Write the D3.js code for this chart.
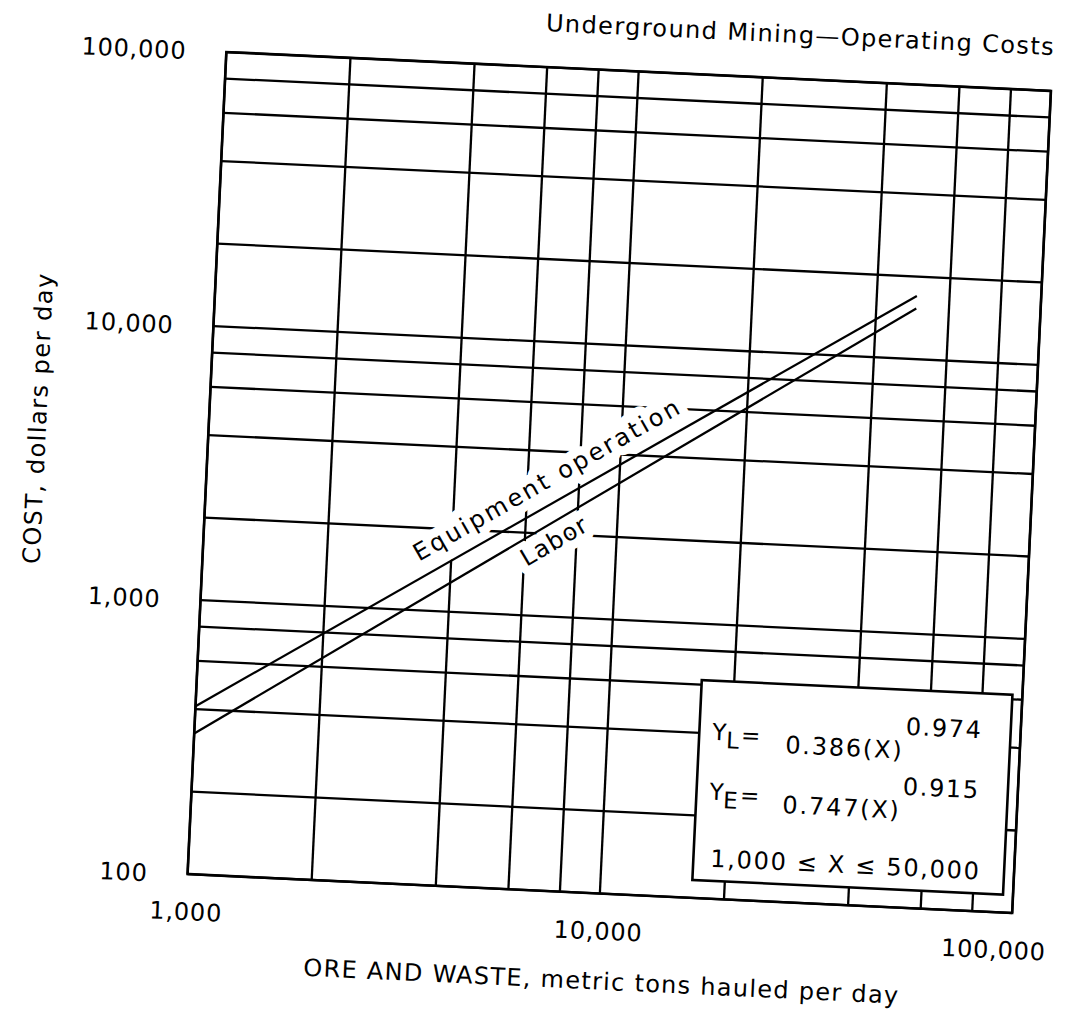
<!DOCTYPE html>
<html>
<head>
<meta charset="utf-8">
<script src="https://cdn.jsdelivr.net/npm/d3@7"></script>
<style>
  body { margin: 0; background: #fff; }
  text { font-family: "DejaVu Sans", sans-serif; fill: #000; }
</style>
</head>
<body>
<script>
const width = 1077, height = 1026;

// grid lines (log paper)
const xGrid = [1000, 2000, 4000, 6000, 8000, 10000, 20000, 40000, 60000, 80000, 100000];
const yGrid = [100, 200, 400, 600, 800, 1000, 2000, 4000, 6000, 8000, 10000, 20000, 40000, 60000, 80000, 100000];
const xLabels = [1000, 10000, 100000];
const yLabels = [100, 1000, 10000, 100000];

// cost lines: [tons per day, dollars per day]
const equipment = [[1000, 410], [50000, 17000]];
const labor = [[1000, 326], [50000, 15300]];

const seriesNames = ["Equipment operation", "Labor"];
const labelAt = [3500, 5650]; // X where each label starts

const fmt = d3.format(",");

// plot area (unrotated frame)
const pLeft = 206.5, pRight = 1032, pTop = 71, pBottom = 894;

const svg = d3.select("body")
  .append("svg")
  .attr("width", width)
  .attr("height", height);

// the scanned page is a bit tilted
const page = svg.append("g")
  .attr("transform", "rotate(2.7 619 482.5)");

const x = d3.scaleLog().domain([1000, 100000]).range([pLeft, pRight]);
const y = d3.scaleLog().domain([100, 100000]).range([pBottom, pTop]);

// grid
page.append("g").selectAll("line")
  .data(xGrid)
  .join("line")
  .attr("x1", d => x(d)).attr("x2", d => x(d))
  .attr("y1", pTop).attr("y2", pBottom)
  .attr("stroke", "#000")
  .attr("stroke-width", 2.3);

page.append("g").selectAll("line")
  .data(yGrid)
  .join("line")
  .attr("x1", pLeft).attr("x2", pRight)
  .attr("y1", d => y(d)).attr("y2", d => y(d))
  .attr("stroke", "#000")
  .attr("stroke-width", 2.3);

// frame
page.append("rect")
  .attr("x", pLeft).attr("y", pTop)
  .attr("width", pRight - pLeft).attr("height", pBottom - pTop)
  .attr("fill", "none")
  .attr("stroke", "#000")
  .attr("stroke-width", 2.6);

// tick labels
page.append("g").selectAll("text")
  .data(yLabels)
  .join("text")
  .attr("x", pLeft - 40)
  .attr("y", d => y(d) + 9)
  .attr("text-anchor", "end")
  .style("font-size", "24px")
  .style("letter-spacing", "0.8px")
  .text(d => fmt(d));

page.append("g").selectAll("text")
  .data(xLabels)
  .join("text")
  .attr("x", d => Math.min(x(d), pRight - 17))
  .attr("y", pBottom + 46)
  .attr("text-anchor", "middle")
  .style("font-size", "24px")
  .style("letter-spacing", "0.8px")
  .text(d => fmt(d));

// titles
page.append("text")
  .attr("x", pRight + 2)
  .attr("y", 35)
  .attr("text-anchor", "end")
  .style("font-size", "24px")
  .style("letter-spacing", "1.4px")
  .text("Underground Mining\u2014Operating Costs");

page.append("text")
  .attr("x", 625)
  .attr("y", 990)
  .attr("text-anchor", "middle")
  .style("font-size", "24px")
  .style("letter-spacing", "1.3px")
  .text("ORE AND WASTE, metric tons hauled per day");

page.append("text")
  .attr("transform", "translate(44,445.5) rotate(-90)")
  .attr("text-anchor", "middle")
  .style("font-size", "24px")
  .style("letter-spacing", "1.5px")
  .text("COST, dollars per day");

// series labels, knocked out of the grid
function power(pts, X) {
  const [a, b] = pts;
  const k = Math.log(b[1] / a[1]) / Math.log(b[0] / a[0]);
  return a[1] * Math.pow(X / a[0], k);
}
function angle(pts) {
  const [a, b] = pts;
  return Math.atan2(y(b[1]) - y(a[1]), x(b[0]) - x(a[0])) * 180 / Math.PI;
}

[equipment, labor].forEach((pts, i) => {
  const X = labelAt[i];
  const g = page.append("g")
    .attr("transform", `translate(${x(X)},${y(power(pts, X))}) rotate(${angle(pts)})`);
  g.append("text")
    .attr("y", i === 0 ? -15 : 25)
    .style("font-size", "24px")
    .style("letter-spacing", i === 0 ? "2.7px" : "1.2px")
    .style("fill", "#000")
    .style("stroke", "#fff")
    .style("stroke-width", 18)
    .style("stroke-linejoin", "round")
    .style("paint-order", "stroke")
    .text(seriesNames[i]);
});

// cost lines
const line = d3.line().x(d => x(d[0])).y(d => y(d[1]));
page.append("g").selectAll("path")
  .data([equipment, labor])
  .join("path")
  .attr("d", line)
  .attr("fill", "none")
  .attr("stroke", "#000")
  .attr("stroke-width", 2.2);

// equation box
const box = page.append("g");
box.append("rect")
  .attr("x", 711).attr("y", 676)
  .attr("width", 311).attr("height", 200)
  .attr("fill", "#fff")
  .attr("stroke", "#000")
  .attr("stroke-width", 2.6);

const eqs = [
  { sub: "L", coef: "0.386(X)", exp: "0.974", base: 745 },
  { sub: "E", coef: "0.747(X)", exp: "0.915", base: 805 }
];
eqs.forEach(e => {
  const t = box.append("text")
    .attr("x", 724)
    .attr("y", e.base - 10)
    .style("font-size", "23px");
  t.append("tspan").text("Y");
  t.append("tspan").attr("dy", 8).text(e.sub);
  t.append("tspan").attr("dx", 2).attr("dy", -6).text("=");
  box.append("text")
    .attr("x", 797.5).attr("y", e.base)
    .style("font-size", "24px")
    .style("letter-spacing", "1.8px")
    .text(e.coef);
  box.append("text")
    .attr("x", 917).attr("y", e.base - 24)
    .style("font-size", "24px")
    .style("letter-spacing", "1.6px")
    .text(e.exp);
});

box.append("text")
  .attr("x", 728).attr("y", 862)
  .style("font-size", "24px")
  .style("letter-spacing", "1.7px")
  .text("1,000 \u2264 X \u2264  50,000");
</script>
</body>
</html>
